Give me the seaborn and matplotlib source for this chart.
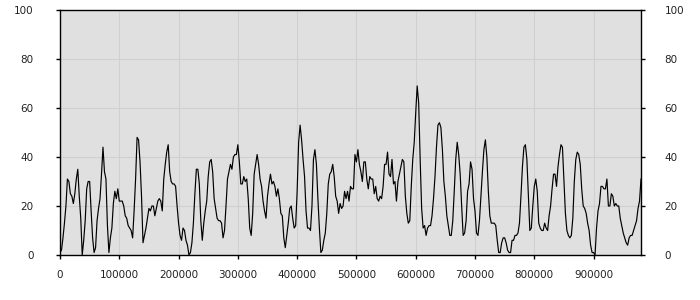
import numpy as np
import pandas as pd
import matplotlib
matplotlib.use("Agg")
import matplotlib.pyplot as plt
import seaborn as sns

# Sampling step of the series (x units)
STEP = 2500

seg_a = [1, 2, 7, 13, 20, 31, 30, 25, 24, 21,
         25, 31, 35, 24, 15, 0, 6, 14, 27, 30,
         30, 18, 7, 1, 3, 14, 19, 23, 33, 44,
         34, 31, 12, 1, 7, 11, 21, 26, 23, 27,
         22, 22, 22, 20, 16, 15, 12, 11, 10, 7,
         18, 31, 48, 47, 38, 24, 5, 8, 11, 15,
         19, 18, 20, 20, 16, 19, 22, 23, 22, 18,
         31, 37]
seg_b = [42, 45, 34, 30, 29, 29, 28, 20, 13, 8,
         6, 11, 10, 6, 4, 0, 1, 5, 13, 25,
         35, 35, 29, 14, 6, 13, 18, 22, 32, 38,
         39, 34, 23, 19, 15, 14, 14, 13, 7, 10,
         20, 31, 34, 37, 35, 40, 41, 41, 45, 38,
         29, 29, 32, 30, 31, 23, 11, 8, 17, 33,
         37, 41, 37, 31, 28, 22, 18]
seg_c = [15, 24, 29, 33, 29, 30, 28, 24, 27, 23,
         17, 16, 7, 3, 8, 13, 19, 20, 15, 11,
         12, 26, 46, 53, 47, 39, 32, 18, 11, 11,
         10, 20, 39, 43, 37, 23, 11, 1, 2, 6,
         9, 17, 29, 33, 34, 37, 32, 24, 22, 17,
         21, 19, 20, 26, 23, 26, 22, 28, 27, 27,
         41, 38, 43, 37, 34, 30, 38, 38]
seg_d = [31, 27, 32, 31, 31, 25, 28, 23, 22, 24,
         23, 28, 37, 37, 42, 33, 32, 39, 29, 30,
         22, 30, 33, 36, 39, 38, 24, 17, 13, 14,
         28, 39, 46, 58, 69, 62, 39, 19, 11, 12,
         8, 11, 12, 12, 16, 23, 32, 44, 53, 54,
         52, 43, 30, 24, 16, 12, 8, 8, 14, 26,
         39, 46, 41, 33, 20, 8, 9, 14]
seg_e = [26, 29, 38, 35, 23, 18, 9, 8, 14, 24,
         34, 43, 47, 40, 26, 16, 13, 13, 13, 12,
         6, 1, 1, 5, 7, 7, 5, 2, 1, 1,
         6, 6, 8, 8, 9, 13, 24, 36, 44, 45,
         39, 24, 10, 11, 20, 28, 31, 26, 13, 11,
         10, 10, 13, 11, 10, 16, 20, 27, 33, 33,
         28, 36, 41, 45, 44, 30]
seg_f = [17, 10, 8, 7, 8, 15, 30, 39, 42, 41,
         37, 27, 20, 19, 17, 13, 10, 4, 1, 1,
         0, 11, 18, 21, 28, 28, 27, 27, 31, 20,
         20, 25, 24, 20, 21, 20, 20, 15, 12, 9,
         7, 5, 4, 7, 8, 8, 10, 12, 14, 19,
         22, 31]

values = seg_a + seg_b + seg_c + seg_d + seg_e + seg_f
positions = np.arange(len(values)) * STEP

x_ticks = [0, 100000, 200000, 300000, 400000, 500000, 600000, 700000, 800000, 900000]
y_ticks = [0, 20, 40, 60, 80, 100]

df = pd.DataFrame({"x": positions, "y": values})

fig = plt.figure(figsize=(7, 3), dpi=100)
fig.patch.set_facecolor("white")
ax = fig.add_axes([60 / 700, 45 / 300, 581 / 700, 245 / 300])
ax.set_facecolor("#e0e0e0")

sns.lineplot(data=df, x="x", y="y", color="black", linewidth=0.85, ax=ax)

ax.set_xlim(0, positions[-1])
ax.set_ylim(0, 100)
ax.set_xticks(x_ticks)
ax.set_xticklabels([str(t) for t in x_ticks])
ax.set_yticks(y_ticks)
ax.set_yticklabels([str(t) for t in y_ticks])
ax.set_xlabel("")
ax.set_ylabel("")

ax.grid(True, color="#d0d0d0", linewidth=0.8)
ax.set_axisbelow(True)

for s in ax.spines.values():
    s.set_color("black")
    s.set_linewidth(1.0)

ax.tick_params(axis="both", direction="out", length=3, width=1, color="black",
               labelsize=7.5, labelcolor="#222222")
ax.tick_params(axis="y", left=True, right=False, labelleft=True, labelright=False, pad=16)
ax.tick_params(axis="x", pad=8)

# right-hand labels
ax2 = ax.twinx()
ax2.set_ylim(0, 100)
ax2.set_yticks(y_ticks)
ax2.set_yticklabels([str(t) for t in y_ticks])
ax2.tick_params(axis="y", direction="out", length=3, width=1, color="black",
                labelsize=7.5, labelcolor="#222222", pad=14)
for s in ax2.spines.values():
    s.set_visible(False)

fig.savefig("out.png", dpi=100, facecolor="white")
